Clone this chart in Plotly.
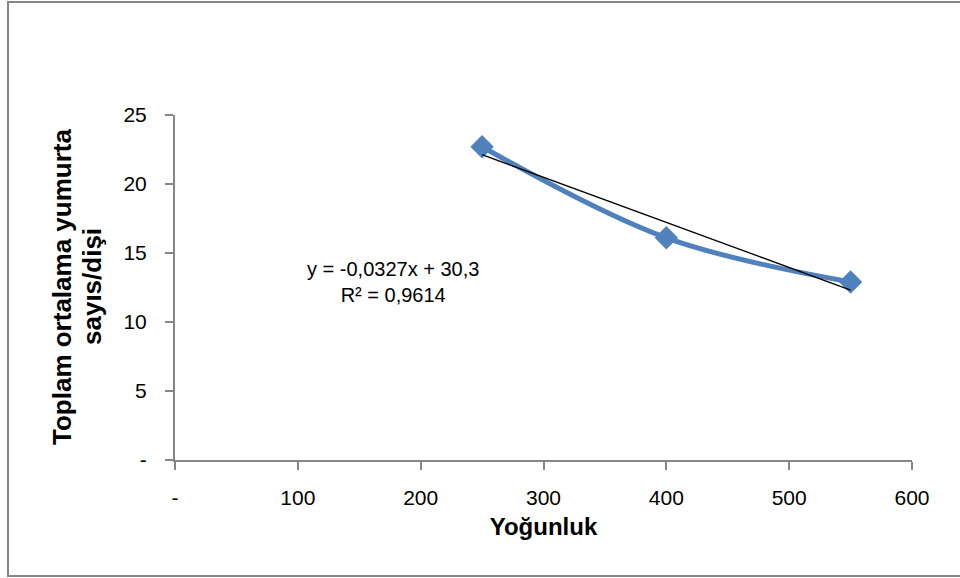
import plotly.graph_objects as go

# Data
density = [250, 400, 550]
eggs = [22.7, 16.1, 12.9]
trend_slope = -0.0327
trend_intercept = 30.3
trend_label = "y = -0,0327x + 30,3<br>R² = 0,9614"
x_title = "Yoğunluk"
y_title_lines = ["Toplam ortalama yumurta", "sayıs/dişi"]
x_tickvals = [0, 100, 200, 300, 400, 500, 600]
x_ticktext = ["-", "100", "200", "300", "400", "500", "600"]
y_tickvals = [0, 5, 10, 15, 20, 25]
y_ticktext = ["-", "5", "10", "15", "20", "25"]

trend_x = [min(density), max(density)]
trend_y = [trend_slope * v + trend_intercept for v in trend_x]

W, H = 960, 578
L, R, T, B = 175, 48, 115, 118
pw, ph = W - L - R, H - T - B

fig = go.Figure()
fig.add_trace(go.Scatter(
    x=density, y=eggs, mode="lines+markers",
    line=dict(color="#4F81BD", width=5, shape="spline", smoothing=1),
    marker=dict(symbol="diamond", size=18, color="#4F81BD"),
    showlegend=False, hoverinfo="skip"))
fig.add_trace(go.Scatter(
    x=trend_x, y=trend_y, mode="lines",
    line=dict(color="black", width=1.3),
    showlegend=False, hoverinfo="skip"))

axis_common = dict(showgrid=False, zeroline=False, showline=True,
                   linecolor="#868686", linewidth=2, ticks="outside",
                   ticklen=8, tickcolor="#868686", tickwidth=2,
                   tickfont=dict(family="Liberation Sans", size=21, color="black"))

title_font = dict(family="Liberation Sans", size=26, color="black")
annotations = [dict(text=trend_label, xref="paper", yref="paper",
                    x=(393 - L) / pw, y=(460 - 282) / ph, showarrow=False,
                    xanchor="center", yanchor="middle",
                    font=dict(family="Liberation Sans", size=20, color="black"),
                    align="center")]
for i, line in enumerate(y_title_lines):
    px = [62, 92][i]
    annotations.append(dict(text="<b>" + line + "</b>", xref="paper", yref="paper",
                            x=(px - L) / pw, y=(460 - 287) / ph, showarrow=False,
                            xanchor="center", yanchor="middle", textangle=-90,
                            font=title_font))

fig.update_layout(
    width=W, height=H,
    margin=dict(l=L, r=R, t=T, b=B),
    paper_bgcolor="white", plot_bgcolor="white",
    xaxis=dict(range=[0, 600], tickvals=x_tickvals, ticktext=x_ticktext,
               ticklabelstandoff=10,
               title=dict(text="<b>" + x_title + "</b>", font=dict(family="Liberation Sans", size=24, color="black"), standoff=10),
               **axis_common),
    yaxis=dict(range=[0, 25], tickvals=y_tickvals, ticktext=y_ticktext,
               ticklabelstandoff=14,
               **axis_common),
    annotations=annotations,
    shapes=[dict(type="rect", xref="paper", yref="paper",
                 x0=(8 - L) / pw, x1=(962 - L) / pw,
                 y0=(460 - 576) / ph, y1=(460 - 2) / ph,
                 line=dict(color="#868686", width=2))],
)

fig.write_html("out.html", config={"displayModeBar": False},
               post_script="document.body.style.margin='0';")
